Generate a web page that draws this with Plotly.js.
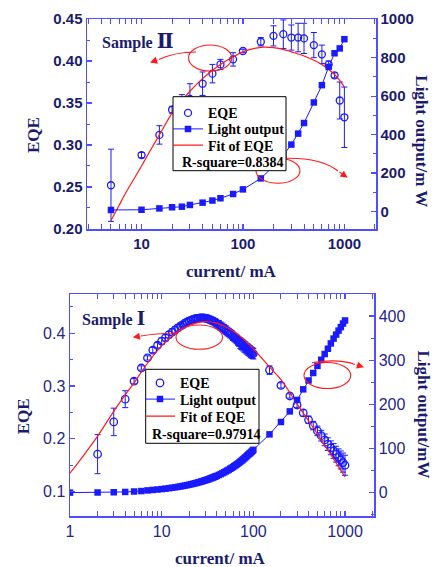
<!DOCTYPE html>
<html><head><meta charset="utf-8">
<script src="https://cdn.plot.ly/plotly-3.0.1.min.js"></script>
<style>html,body{margin:0;padding:0;background:#fff}#chart{width:438px;height:567px}</style>
</head><body><div id="chart"></div>
<script>
// ---------- Sample II (top panel) ----------
const currentII = [5,10,15,20,25,30,40,50,60,80,100,150,200,250,300,350,400,500,600,700,800,900,1000];
const eqeII     = [0.252,0.288,0.312,0.342,0.352,0.355,0.373,0.385,0.396,0.402,0.412,0.423,0.430,0.432,0.428,0.428,0.427,0.419,0.408,0.396,0.383,0.353,0.333];
const eqeErrII  = [0.043,0.003,0.011,0.004,0.008,0.018,0.014,0.011,0.006,0.008,0.002,0.005,0.012,0.017,0.015,0.017,0.018,0.015,0.011,0.004,0.003,0.022,0.036];
const lightII   = [8,9,16,22,25,34,46,57,69,91,115,172,235,293,348,405,460,567,657,752,823,848,896];
const fitCurrentII = [5,6,7,8,10,12,15,20,25,30,40,50,60,80,100,130,160,200,250,300,400,500,600,700,800,900,1000];
const fitEqeII     = [0.210,0.228,0.243,0.255,0.275,0.292,0.312,0.338,0.353,0.364,0.379,0.389,0.396,0.405,0.411,0.415,0.4165,0.416,0.414,0.411,0.406,0.401,0.396,0.390,0.384,0.377,0.369];

// ---------- Sample I (bottom panel) ----------
const currentI = [1,2,3,4,5,6,7,8,9,10,11,12,13,14,15,16,17,18,19,20,21,22,23,24,25,26,27,28,29,30,31,32,33,34,35,36,37,38,39,40,
  42,44,46,48,50,52,54,56,58,60,62,64,66,68,70,72,74,76,78,80,82,84,86,88,90,92,94,96,98,100,
  150,200,250,300,350,400,450,500,550,600,650,700,750,800,850,900,950,1000];
const lightI = [0,0.3,0.8,1.5,2.5,3.5,5,6,7,8,9,10,11,12,13,14,15,16,17,18,19,20,21,22,23,24,25,26,27,28,29,30,31,32,33,34,35,36,37,38,
  40,42,44,46,48,50,52,54,56,58,60,62,64,66,68,70,72,74,76,78,80,82,84,86,88,89,91,93,95,97,
  132,160,184,210,234,254,271,287,301,314,326,338,349,358,367,375,383,390];
const currentEqeI = [2,3,4,5,6,7,8,9,10,11,12,13,14,15,16,17,18,19,20,21,22,23,24,25,26,27,28,29,30,31,32,33,34,35,36,37,38,39,40,
  42,44,46,48,50,52,54,56,58,60,62,64,66,68,70,72,74,76,78,80,82,84,86,88,90,92,94,96,98,100,
  150,200,250,300,350,400,450,500,550,600,650,700,750,800,850,900,950,1000];
const eqeI = [0.171,0.232,0.275,0.309,0.334,0.353,0.368,0.377,0.385,0.391,0.397,0.402,0.406,0.410,0.413,0.416,0.419,0.421,0.423,0.424,0.426,0.427,0.428,0.428,0.429,0.429,0.429,0.429,0.428,0.428,0.427,0.426,0.425,0.424,0.423,0.422,0.421,0.420,0.418,
  0.416,0.413,0.411,0.408,0.406,0.403,0.401,0.399,0.397,0.394,0.392,0.390,0.388,0.385,0.383,0.381,0.379,0.378,0.376,0.374,0.373,0.371,0.370,0.368,0.367,0.366,0.364,0.363,0.362,0.361,
  0.330,0.301,0.281,0.264,0.249,0.236,0.225,0.215,0.206,0.198,0.190,0.183,0.177,0.171,0.165,0.160,0.155,0.150];
const eqeErrI = [0.037,0.026,0.016,0.005,0.004,0.004,0.005,0.005,0.006,
  0.006,0.006,0.006,0.006,0.006,0.006,0.006,0.006,0.006,0.006,0.006,0.006,0.006,0.006,0.006,0.006,0.006,0.006,0.006,0.006,0.006,0.006,0.006,0.006,0.006,0.006,0.006,0.006,0.006,0.006,
  0.008,0.008,0.008,0.008,0.008,0.008,0.008,0.008,0.008,0.008,0.008,0.008,0.008,0.008,0.008,
  0.010,0.010,0.010,0.010,0.010,0.010,0.010,0.010,0.010,0.010,0.010,0.010,0.010,0.010,0.010,
  0.008,0.005,0.004,0.005,0.006,0.007,0.008,0.009,0.010,0.011,0.012,0.013,0.014,0.015,0.016,0.017,0.018,0.019];
const fitCurrentI = [1,1.5,2,3,4,5,7,10,15,20,25,30,40,50,70,100,150,200,300,400,500,700,1000];
const fitEqeI     = [0.135,0.175,0.205,0.252,0.283,0.306,0.343,0.376,0.403,0.415,0.420,0.422,0.419,0.412,0.396,0.370,0.336,0.312,0.266,0.234,0.209,0.170,0.128];

// ---------- tick labels & legend text ----------
const xTickVals = [1,10,100,1000];
const eqeTicksTop = [0.20,0.25,0.30,0.35,0.40,0.45];
const eqeTickTextTop = ['0.20','0.25','0.30','0.35','0.40','0.45'];
const lightTicksTop = [0,200,400,600,800,1000];
const labelsTop = ['EQE','Light output','Fit of EQE','R-square=0.8384'];
const labelsBottom = ['EQE','Light output','Fit of EQE','R-square=0.97914'];

// ---------- styling ----------
const W=438,H=567,ML=70,MR=62,MT=19,MB=51;
const PW=W-ML-MR, PH=H-MT-MB;
const X=p=>(p-ML)/PW, Y=p=>(H-MB-p)/PH;
const BLUE='#1a1aff', FRAME='#4f4fff', NAVY='#1b1b6e', NAVY2='#26268a', RED='#ff1a1a';
const serifB = {family:'Liberation Serif, Times New Roman, serif', weight:'bold'};
const bold = s => '<b>'+s+'</b>';

const eqeMarker = {symbol:'circle-open', size:7, color:BLUE, line:{width:1.3, color:BLUE}};
const errStyle = arr => ({type:'data', array:arr, visible:true, color:BLUE, thickness:1, width:3});
const sqMarker = {symbol:'square', size:6.5, color:BLUE};

const traces = [
  {x:currentII, y:eqeII, error_y:errStyle(eqeErrII), mode:'markers', marker:eqeMarker, xaxis:'x', yaxis:'y', name:labelsTop[0], legend:'legend'},
  {x:fitCurrentII, y:fitEqeII, mode:'lines', line:{color:RED, width:1.2, shape:'spline'}, xaxis:'x', yaxis:'y', name:labelsTop[2], legend:'legend3'},
  {x:currentII, y:lightII, mode:'lines+markers', marker:sqMarker, line:{color:BLUE, width:1}, xaxis:'x', yaxis:'y3', name:labelsTop[1], legend:'legend2'},
  {x:currentEqeI, y:eqeI, error_y:errStyle(eqeErrI), mode:'markers', marker:Object.assign({},eqeMarker,{size:7.5}), xaxis:'x2', yaxis:'y2', name:labelsBottom[0], legend:'legend4'},
  {x:fitCurrentI, y:fitEqeI, mode:'lines', line:{color:RED, width:1.2, shape:'spline'}, xaxis:'x2', yaxis:'y2', name:labelsBottom[2], legend:'legend6'},
  {x:currentI, y:lightI, mode:'lines+markers', marker:sqMarker, line:{color:BLUE, width:1}, xaxis:'x2', yaxis:'y4', name:labelsBottom[1], legend:'legend5'}
];

const axBase = {showline:true, linecolor:FRAME, linewidth:1.5, ticks:'inside', ticklen:5, tickwidth:1.2, tickcolor:FRAME, showgrid:false, zeroline:false, fixedrange:true};
const topFont = {family:'Liberation Sans, Arial, sans-serif', size:15, color:NAVY, weight:'bold'};
const botFont = {family:'Liberation Sans, Arial, sans-serif', size:16, color:NAVY2};
const minorT = d => ({ticks:'inside', ticklen:3, tickwidth:1, tickcolor:FRAME, dtick:d, showgrid:false});

const legendBase = (px,py)=>({x:X(px), y:Y(py), xanchor:'left', yanchor:'middle', xref:'paper', yref:'paper', bgcolor:'rgba(0,0,0,0)', borderwidth:0, font:Object.assign({size:14, color:'#000'}, serifB)});

function ann(text, px, py, size, angle, extra){
  return Object.assign({text:text, x:X(px), y:Y(py), xref:'paper', yref:'paper', showarrow:false, textangle:angle||0, xanchor:'center', yanchor:'middle', font:Object.assign({size:size, color:NAVY}, serifB)}, extra||{});
}
function head(tipx,tipy,tailx,taily){
  return {text:'', x:X(tipx), y:Y(tipy), xref:'paper', yref:'paper', showarrow:true, ax:tailx-tipx, ay:taily-tipy, arrowhead:2, arrowsize:1.3, arrowwidth:1.1, arrowcolor:RED};
}
function ell(x0,y0,x1,y1){ return {type:'circle', xref:'paper', yref:'paper', x0:X(x0), x1:X(x1), y0:Y(y1), y1:Y(y0), line:{color:RED, width:1.1}, layer:'above'}; }
function curve(p0,c,p1){ return {type:'path', xref:'paper', yref:'paper', path:`M${X(p0[0])},${Y(p0[1])} Q${X(c[0])},${Y(c[1])} ${X(p1[0])},${Y(p1[1])}`, line:{color:RED, width:1.1}, layer:'above'}; }
function box(x0,y0,x1,y1){ return {type:'rect', xref:'paper', yref:'paper', x0:X(x0), x1:X(x1), y0:Y(y1), y1:Y(y0), line:{color:'#000', width:1}, fillcolor:'#fff', layer:'above'}; }

const layout = {
  width:W, height:H, margin:{l:ML, r:MR, t:MT, b:MB}, paper_bgcolor:'#fff', plot_bgcolor:'#fff', showlegend:true,
  xaxis: Object.assign({}, axBase, {domain:[X(87),1], anchor:'y', type:'log', range:[Math.log10(2.9),Math.log10(2050)], tickmode:'array', tickvals:xTickVals, ticktext:xTickVals.map(v=>bold(String(v))), mirror:'allticks', tickfont:topFont, minor:minorT('D1')}),
  yaxis: Object.assign({}, axBase, {domain:[Y(229),1], anchor:'x', range:[0.1999,0.4501], tickmode:'array', tickvals:eqeTicksTop, ticktext:eqeTickTextTop.map(bold), tickfont:topFont, minor:minorT(0.025)}),
  yaxis3: Object.assign({}, axBase, {overlaying:'y', anchor:'x', side:'right', range:[-91,1001], tickmode:'array', tickvals:lightTicksTop, ticktext:lightTicksTop.map(v=>bold(String(v))), tickfont:topFont, minor:minorT(100)}),
  xaxis2: Object.assign({}, axBase, {domain:[0,X(374)], anchor:'y2', type:'log', range:[0,3.316], tickmode:'array', tickvals:xTickVals, ticktext:xTickVals.map(String), mirror:'allticks', tickfont:botFont, minor:minorT('D1')}),
  yaxis2: Object.assign({}, axBase, {domain:[0,Y(294)], anchor:'x2', range:[0.054,0.474], dtick:0.1, tick0:0, tickformat:'.1f', tickfont:botFont, minor:minorT(0.05)}),
  yaxis4: Object.assign({}, axBase, {overlaying:'y2', anchor:'x2', side:'right', range:[-53,450], dtick:100, tick0:0, tickfont:botFont, minor:minorT(50)}),
  legend: legendBase(168,113.3),
  legend2: legendBase(168,129.3),
  legend3: legendBase(168,145.5),
  legend4: legendBase(140,383.3),
  legend5: legendBase(140,399.5),
  legend6: legendBase(140,416.5),
  shapes: [
    ell(188.5,45,231.7,71), curve([196,52],[175,52],[159,59.5]),
    ell(256,158.3,300,183.3), curve([285,158.3],[321,157.5],[338,171]),
    ell(176,325,222.5,349.3), curve([177,333],[155,333.5],[141,336]),
    ell(304,362.5,350.7,388.5), curve([312,362.5],[340,358.5],[355,364.5]),
    box(173,96.7,286,170.7),
    box(145.7,369.3,259,443.3)
  ],
  annotations: [
    ann('current/ mA', 231.7, 271.7, 17),
    ann('EQE', 33, 135, 17, -90),
    ann('Light output/m W', 421.7, 141, 17, 90),
    ann('current/ mA', 220.8, 558, 17),
    ann('EQE', 23.3, 416, 17, -90),
    ann('Light output/mW', 423.5, 415, 17, 90),
    ann('Sample <span style="font-family:DejaVu Serif;font-size:20px">Ⅱ</span>', 100, 41, 16, 0, {xanchor:'left'}),
    ann('Sample <span style="font-family:DejaVu Serif;font-size:18px">Ⅰ</span>', 79.7, 318.7, 16, 0, {xanchor:'left'}),
    ann(labelsTop[3], 180, 162.3, 14, 0, {xanchor:'left', font:Object.assign({size:14,color:'#000'},serifB)}),
    ann(labelsBottom[3], 150, 434, 14, 0, {xanchor:'left', font:Object.assign({size:14,color:'#000'},serifB)}),
    head(150,62.5,159,59.5),
    head(347.7,177.7,338,171),
    head(132.7,337.3,141,336),
    head(364,367.3,355,364.5)
  ]
};

Plotly.newPlot('chart', traces, layout, {displayModeBar:false, staticPlot:true});
</script>
</body></html>
